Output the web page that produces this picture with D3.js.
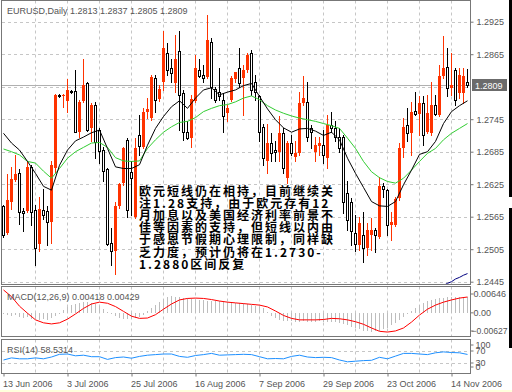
<!DOCTYPE html>
<html>
<head>
<meta charset="utf-8">
<title>EURUSD Daily</title>
<script src="https://cdn.jsdelivr.net/npm/d3@7"></script>
<style>
  body { margin: 0; background: #fff; }
  svg text { font-family: "Liberation Sans", "DejaVu Sans", sans-serif; font-size: 9px; fill: #555; }
  .note { font-family: "Noto Sans CJK SC", sans-serif; font-size: 12px; font-weight: bold; fill: #000; letter-spacing: 2px; }
</style>
</head>
<body>
<svg width="512" height="392"></svg>
<script>
// daily bars, 13 Jun 2006 .. 16 Nov 2006
var opens = [1.2584,1.2534,1.2593,1.2632,1.2645,1.2576,1.2576,1.2657,1.2577,1.2514,1.2577,1.2576,1.2555,1.2654,1.2790,1.2787,1.2779,1.2797,1.2797,1.2721,
  1.2779,1.2811,1.2728,1.2771,1.2725,1.2688,1.2653,1.2516,1.2502,1.2584,1.2627,1.2707,1.2648,1.2565,1.2716,1.2694,1.2759,1.2747,1.2821,1.2782,
  1.2814,1.2867,1.2839,1.2811,1.2870,1.2793,1.2722,1.2711,1.2779,1.2836,1.2827,1.2822,1.2888,1.2801,1.2796,1.2781,1.2756,1.2781,1.2819,1.2839,
  1.2821,1.2836,1.2867,1.2814,1.2787,1.2731,1.2667,1.2701,1.2688,1.2685,1.2719,1.2636,1.2701,1.2676,1.2682,1.2774,1.2777,1.2728,1.2685,1.2696,
  1.2697,1.2673,1.2734,1.2728,1.2713,1.2713,1.2608,1.2593,1.2534,1.2513,1.2531,1.2507,1.2531,1.2541,1.2528,1.2622,1.2614,1.2550,1.2550,1.2599,
  1.2691,1.2734,1.2719,1.2760,1.2754,1.2774,1.2722,1.2719,1.2772,1.2753,1.2824,1.2841,1.2802,1.2836,1.2793,1.2793,1.2813];
var highs = [1.2587,1.2643,1.2656,1.2679,1.2653,1.2581,1.2668,1.2661,1.2587,1.2602,1.2617,1.2584,1.2667,1.2791,1.2791,1.2791,1.2819,1.2799,1.2836,1.2781,
  1.2857,1.2814,1.2774,1.2776,1.2728,1.2694,1.2654,1.2544,1.2593,1.2627,1.2694,1.2710,1.2667,1.2710,1.2753,1.2765,1.2784,1.2827,1.2827,1.2808,
  1.2907,1.2885,1.2857,1.2901,1.2907,1.2799,1.2741,1.2790,1.2864,1.2857,1.2845,1.2937,1.2894,1.2805,1.2839,1.2793,1.2771,1.2824,1.2833,1.2876,
  1.2845,1.2867,1.2873,1.2827,1.2790,1.2737,1.2737,1.2719,1.2704,1.2750,1.2728,1.2704,1.2716,1.2704,1.2796,1.2824,1.2814,1.2734,1.2713,1.2713,
  1.2725,1.2753,1.2759,1.2741,1.2728,1.2716,1.2630,1.2599,1.2568,1.2565,1.2574,1.2553,1.2562,1.2544,1.2639,1.2627,1.2617,1.2574,1.2602,1.2701,
  1.2747,1.2765,1.2777,1.2796,1.2787,1.2787,1.2790,1.2814,1.2790,1.2845,1.2899,1.2876,1.2867,1.2839,1.2839,1.2839,1.2837];
var lows = [1.2528,1.2533,1.2579,1.2630,1.2551,1.2538,1.2574,1.2550,1.2475,1.2501,1.2561,1.2513,1.2516,1.2648,1.2786,1.2768,1.2759,1.2793,1.2721,1.2713,
  1.2777,1.2723,1.2704,1.2673,1.2664,1.2630,1.2513,1.2475,1.2459,1.2581,1.2624,1.2565,1.2568,1.2562,1.2679,1.2691,1.2747,1.2744,1.2759,1.2779,
  1.2799,1.2827,1.2814,1.2796,1.2725,1.2707,1.2709,1.2694,1.2777,1.2822,1.2814,1.2821,1.2784,1.2777,1.2781,1.2722,1.2741,1.2779,1.2814,1.2805,
  1.2753,1.2833,1.2790,1.2781,1.2704,1.2661,1.2645,1.2667,1.2667,1.2667,1.2645,1.2627,1.2679,1.2667,1.2679,1.2771,1.2704,1.2691,1.2667,1.2679,
  1.2664,1.2654,1.2722,1.2704,1.2685,1.2571,1.2541,1.2513,1.2501,1.2504,1.2482,1.2494,1.2504,1.2499,1.2525,1.2602,1.2531,1.2522,1.2547,1.2596,
  1.2676,1.2704,1.2679,1.2753,1.2716,1.2697,1.2719,1.2716,1.2753,1.2750,1.2821,1.2787,1.2790,1.2771,1.2784,1.2774,1.2805];
var closes = [1.2531,1.2596,1.2635,1.2643,1.2574,1.2571,1.2657,1.2574,1.2508,1.2579,1.2568,1.2555,1.2661,1.2790,1.2788,1.2790,1.2799,1.2795,1.2722,1.2776,
  1.2808,1.2725,1.2771,1.2702,1.2686,1.2649,1.2515,1.2502,1.2584,1.2625,1.2692,1.2577,1.2636,1.2691,1.2696,1.2759,1.2764,1.2822,1.2781,1.2801,
  1.2876,1.2836,1.2830,1.2857,1.2790,1.2722,1.2711,1.2782,1.2839,1.2824,1.2821,1.2891,1.2805,1.2781,1.2787,1.2750,1.2765,1.2821,1.2832,1.2811,
  1.2836,1.2864,1.2799,1.2796,1.2722,1.2673,1.2701,1.2682,1.2685,1.2719,1.2654,1.2701,1.2682,1.2682,1.2774,1.2784,1.2713,1.2722,1.2697,1.2701,
  1.2679,1.2734,1.2728,1.2713,1.2691,1.2593,1.2559,1.2538,1.2514,1.2553,1.2507,1.2541,1.2541,1.2531,1.2621,1.2617,1.2550,1.2556,1.2598,1.2691,
  1.2731,1.2719,1.2759,1.2754,1.2774,1.2715,1.2756,1.2772,1.2754,1.2825,1.2839,1.2802,1.2808,1.2781,1.2827,1.2824,1.2809];

// moving averages read every second bar
var fastMA = [1.2719,1.2701,1.2688,1.2667,1.2645,1.2621,1.2614,1.2660,1.2688,1.2705,1.2712,1.2720,1.2725,1.2691,1.2657,1.2654,1.2654,1.2661,1.2697,1.2728,
  1.2750,1.2768,1.2779,1.2765,1.2784,1.2799,1.2803,1.2790,1.2795,1.2799,1.2807,1.2811,1.2787,1.2764,1.2744,1.2729,1.2721,1.2727,1.2728,1.2723,
  1.2715,1.2721,1.2707,1.2673,1.2645,1.2619,1.2593,1.2585,1.2584,1.2593,1.2624,1.2651,1.2680,1.2685,1.2704,1.2737,1.2759,1.2770,1.2779];
var slowMA = [1.2690,1.2685,1.2679,1.2667,1.2664,1.2649,1.2636,1.2654,1.2673,1.2685,1.2693,1.2701,1.2702,1.2693,1.2674,1.2668,1.2667,1.2668,1.2691,1.2707,
  1.2721,1.2731,1.2739,1.2741,1.2748,1.2759,1.2765,1.2770,1.2772,1.2777,1.2784,1.2788,1.2781,1.2770,1.2762,1.2756,1.2751,1.2747,1.2744,1.2741,
  1.2737,1.2733,1.2728,1.2710,1.2691,1.2667,1.2648,1.2637,1.2630,1.2627,1.2636,1.2651,1.2667,1.2682,1.2691,1.2707,1.2719,1.2728,1.2737];
var longMAStart = 110;
var longMA = [1.2438,1.2442,1.2445,1.2450,1.2453,1.2457,1.2460];

var macdMain = [-0.0004,-0.0006,-0.0008,-0.0005,-0.0010,-0.0013,-0.0012,-0.0016,-0.0018,-0.0019,-0.0017,-0.0019,-0.0014,-0.0009,-0.0003,
  0.0008,0.0015,0.0021,0.0025,0.0028,0.0029,0.0029,0.0027,0.0024,0.0018,0.0011,
  0.0003,-0.0004,-0.0009,-0.0013,-0.0016,-0.0017,-0.0016,-0.0013,-0.0010,-0.0005,
  0.0004,0.0013,0.0022,0.0030,0.0038,0.0044,0.0045,0.0044,0.0042,0.0041,0.0039,0.0038,
  0.0036,0.0035,0.0034,0.0033,0.0032,0.0031,0.0031,0.0030,0.0029,0.0029,0.0028,0.0027,0.0026,0.0024,0.0022,
  0.0019,0.0017,0.0012,0.0002,-0.0008,-0.0015,-0.0019,-0.0021,-0.0022,-0.0023,
  -0.0024,-0.0024,-0.0023,-0.0024,-0.0025,-0.0024,-0.0023,-0.0024,-0.0025,-0.0024,-0.0025,
  -0.0027,-0.0030,-0.0034,-0.0038,-0.0042,-0.0045,-0.0048,-0.0050,-0.0051,-0.0050,-0.0048,-0.0045,-0.0040,
  -0.0034,-0.0027,-0.0020,-0.0012,-0.0004,0.0006,0.0014,
  0.0021,0.0026,0.0031,0.0035,0.0038,0.0040,0.0041,0.0042,0.0043,0.0044,0.0044,0.0043,0.0042];
var macdSignal = [0.0062,0.0044,0.0018,-0.0001,-0.0019,-0.0027,-0.0030,-0.0027,-0.0017,-0.0003,0.0012,0.0024,0.0029,0.0026,0.0017,0.0004,-0.0009,-0.0015,-0.0014,-0.0005,
  0.0010,0.0024,0.0035,0.0039,0.0040,0.0039,0.0036,0.0032,0.0029,0.0027,0.0025,0.0023,0.0021,0.0016,0.0005,-0.0007,-0.0015,-0.0019,-0.0019,-0.0019,
  -0.0018,-0.0015,-0.0016,-0.0019,-0.0024,-0.0031,-0.0041,-0.0050,-0.0052,-0.0049,-0.0041,-0.0025,-0.0006,0.0010,0.0021,0.0029,0.0035,0.0040,0.00429];
var rsi = [40,47,44,44,47,44,50,59,60,54,56,51,51,42,48,50,46,52,56,58,60,60,52,49,55,58,62,56,57,58,
  59,58,51,44,45,44,52,56,50,48,49,48,40,34,36,38,39,49,44,53,62,62,60,58,64,67,65,64,58.5];

var priceTicks = [1.2925, 1.2865, 1.2745, 1.2685, 1.2625, 1.2565, 1.2505, 1.2445];
var priceGrid = [1.2925, 1.2865, 1.2805, 1.2745, 1.2685, 1.2625, 1.2565, 1.2505, 1.2445];
var lastPrice = 1.2809;
var macdTicks = [0.00646, 0, -0.00627];
var rsiTicks = [100, 70, 30, 0];
var rsiLevels = [70, 30];
var dateBars = [0, 16, 32, 48, 64, 80, 96, 112];
var dateLabels = ["13 Jun 2006", "3 Jul 2006", "25 Jul 2006", "16 Aug 2006", "7 Sep 2006", "29 Sep 2006", "23 Oct 2006", "14 Nov 2006"];
var noteLines = ["欧元短线仍在相持，目前继续关", "注1.28支持，由于欧元存有12", "月加息以及美国经济利率前景不",
  "佳等因素的支持，但短线以内由", "于感恩节假期心理限制，同样缺", "乏力度，预计仍将在1.2730-", "1.2880区间反复"];

var svg = d3.select("svg");
var n = closes.length;
var left = 2, right = 470;

var x = d3.scaleLinear().domain([0, n - 1]).range([3, 467]);
var y = d3.scaleLinear().domain([1.2445, 1.2925]).range([281.7, 21.7]);
var yM = d3.scaleLinear().domain([-0.00627, 0.00646]).range([336, 289]);
var yR = d3.scaleLinear().domain([0, 100]).range([372, 342]);
function px(i) { return Math.round(x(i)); }

var panels = [[0.5, 284.5], [286.5, 336.5], [339.5, 373.5]];

svg.append("rect").attr("width", 512).attr("height", 392).attr("fill", "#fff");

// vertical dashed grid in every panel
var gridBars = d3.range(8, n, 8);
panels.forEach(function(p) {
  svg.append("g").selectAll("line").data(gridBars).join("line")
    .attr("x1", function(d) { return px(d) + 0.5; }).attr("x2", function(d) { return px(d) + 0.5; })
    .attr("y1", p[0]).attr("y2", p[1])
    .attr("stroke", "#c6c6c6").attr("stroke-dasharray", "3,3");
});

svg.append("g").selectAll("line").data(priceGrid).join("line")
  .attr("x1", left).attr("x2", right)
  .attr("y1", function(d) { return Math.round(y(d)) + 0.5; }).attr("y2", function(d) { return Math.round(y(d)) + 0.5; })
  .attr("stroke", "#c6c6c6").attr("stroke-dasharray", "3,3");

svg.append("line").attr("x1", left).attr("x2", right)
  .attr("y1", Math.round(y(lastPrice)) + 0.5).attr("y2", Math.round(y(lastPrice)) + 0.5)
  .attr("stroke", "#b0b0b0");

svg.append("g").selectAll("line").data(rsiLevels).join("line")
  .attr("x1", left).attr("x2", right)
  .attr("y1", function(d) { return Math.round(yR(d)) + 0.5; }).attr("y2", function(d) { return Math.round(yR(d)) + 0.5; })
  .attr("stroke", "#c6c6c6").attr("stroke-dasharray", "3,3");

// main panel clip
svg.append("clipPath").attr("id", "mainClip").append("rect")
  .attr("x", left).attr("y", 1).attr("width", right - left).attr("height", 283);
var main = svg.append("g").attr("clip-path", "url(#mainClip)");

// candles
var bars = d3.range(n);
var candle = main.append("g").attr("shape-rendering", "crispEdges")
  .selectAll("g").data(bars).join("g");
candle.append("line")
  .attr("x1", function(i) { return px(i) + 0.5; }).attr("x2", function(i) { return px(i) + 0.5; })
  .attr("y1", function(i) { return Math.round(y(highs[i])); })
  .attr("y2", function(i) { return Math.round(y(lows[i])) + 1; })
  .attr("stroke", function(i) { return closes[i] > opens[i] ? "#ff3300" : "#000"; });
candle.append("rect")
  .attr("x", function(i) { return closes[i] > opens[i] ? px(i) - 1 : px(i) - 0.5; })
  .attr("y", function(i) {
    var t = Math.round(y(Math.max(opens[i], closes[i])));
    return closes[i] > opens[i] ? t : t + 0.5;
  })
  .attr("width", function(i) { return closes[i] > opens[i] ? 3 : 2; })
  .attr("height", function(i) {
    var h = Math.round(y(Math.min(opens[i], closes[i]))) - Math.round(y(Math.max(opens[i], closes[i])));
    return closes[i] > opens[i] ? Math.max(1, h) : Math.max(0, h);
  })
  .attr("fill", function(i) { return closes[i] > opens[i] ? "#ff3300" : "#fff"; })
  .attr("stroke", function(i) { return closes[i] > opens[i] ? "none" : "#000"; });

var maBars = d3.range(0, n, 2);
var maLine = d3.line().x(function(d) { return x(d[0]) + 0.5; }).y(function(d) { return y(d[1]); });
main.append("path").attr("d", maLine(d3.zip(maBars, slowMA)))
  .attr("fill", "none").attr("stroke", "#32cd32");
main.append("path").attr("d", maLine(d3.zip(maBars, fastMA)))
  .attr("fill", "none").attr("stroke", "#000");
main.append("path").attr("d", maLine(longMA.map(function(v, j) { return [longMAStart + j, v]; })))
  .attr("fill", "none").attr("stroke", "#000080");

// MACD: histogram and signal
svg.append("g").attr("shape-rendering", "crispEdges")
  .selectAll("line").data(bars).join("line")
  .attr("x1", function(i) { return px(i) + 0.5; }).attr("x2", function(i) { return px(i) + 0.5; })
  .attr("y1", Math.round(yM(0)))
  .attr("y2", function(i) { return Math.round(yM(macdMain[i])); })
  .attr("stroke", "#bdbdbd");
svg.append("path")
  .attr("d", d3.line().x(function(d) { return x(d[0]) + 0.5; }).y(function(d) { return yM(d[1]); })(d3.zip(maBars, macdSignal)))
  .attr("fill", "none").attr("stroke", "#ff0000");

// RSI
svg.append("path")
  .attr("d", d3.line().x(function(d) { return x(d[0]) + 0.5; }).y(function(d) { return yR(d[1]); })(d3.zip(maBars, rsi)))
  .attr("fill", "none").attr("stroke", "#1e90ff");

// frames
svg.append("g").selectAll("rect").data(panels).join("rect")
  .attr("x", 1.5).attr("y", function(p) { return p[0]; })
  .attr("width", right - 1).attr("height", function(p) { return p[1] - p[0]; })
  .attr("fill", "none").attr("stroke", "#777");

// window edges of the screenshot
svg.append("rect").attr("x", 509).attr("y", 0).attr("width", 3).attr("height", 197).attr("fill", "#000");
svg.append("rect").attr("x", 509).attr("y", 208).attr("width", 3).attr("height", 140).attr("fill", "#000");
svg.append("rect").attr("x", 0).attr("y", 390).attr("width", 512).attr("height", 2).attr("fill", "#ffffdc");

// axes
function styleAxis(g) {
  g.select(".domain").remove();
  g.selectAll(".tick line").attr("stroke", "#777");
  g.selectAll(".tick text").attr("fill", "#555").style("font-size", "9px")
    .style("font-family", "'Liberation Sans', sans-serif");
}
svg.append("g").attr("transform", "translate(" + (right + 0.5) + ",0)")
  .call(d3.axisRight(y).tickValues(priceTicks).tickSize(3).tickPadding(3).tickFormat(d3.format(".4f")))
  .call(styleAxis);

var macdAxis = svg.append("g").attr("transform", "translate(" + (right + 0.5) + ",0)")
  .call(d3.axisRight(yM).tickValues(macdTicks).tickSize(3).tickPadding(0)
    .tickFormat(function(d) { return d === 0 ? "0.00" : d3.format(".5f")(d); }))
  .call(styleAxis);
macdAxis.selectAll(".tick").attr("transform", function(d) {
  return "translate(0," + (yM(d) + (d > 0 ? 5 : d < 0 ? -5 : 0)) + ")";
});
macdAxis.selectAll(".tick text").filter(function(d) { return d < 0; })
  .attr("x", 1).attr("textLength", 36).attr("lengthAdjust", "spacingAndGlyphs");

var rsiAxis = svg.append("g").attr("transform", "translate(" + (right + 0.5) + ",0)")
  .call(d3.axisRight(yR).tickValues(rsiTicks).tickSize(3).tickPadding(2))
  .call(styleAxis);
rsiAxis.selectAll(".tick").attr("transform", function(d) {
  return "translate(0," + (yR(d) + (d === 100 ? 3 : d === 0 ? -5 : 0)) + ")";
});

var dateAxis = svg.append("g").attr("transform", "translate(0.5,373.5)")
  .call(d3.axisBottom(x).tickValues(dateBars).tickSize(3).tickPadding(4)
    .tickFormat(function(d, i) { return dateLabels[i]; }))
  .call(styleAxis);
dateAxis.selectAll(".tick text").attr("text-anchor", "start").attr("x", -1);

// last price marker
svg.append("rect").attr("x", 472).attr("y", Math.round(y(lastPrice)) - 6)
  .attr("width", 35).attr("height", 12).attr("fill", "#6b6b6b");
svg.append("text").attr("x", 475).attr("y", Math.round(y(lastPrice)) + 3.5)
  .style("fill", "#fff").text(d3.format(".4f")(lastPrice));

// panel titles
svg.append("text").attr("x", 7).attr("y", 14)
  .text("EURUSD,Daily  " + [opens[n - 1], highs[n - 1], lows[n - 1], closes[n - 1]].map(d3.format(".4f")).join(" "));
svg.append("text").attr("x", 7).attr("y", 300)
  .text("MACD(12,26,9) " + d3.format(".5f")(0.00418) + " " + d3.format(".5f")(macdSignal[macdSignal.length - 1]));
svg.append("text").attr("x", 7).attr("y", 353)
  .text("RSI(14) " + d3.format(".4f")(58.5314));

// comment text
svg.append("g").selectAll("text").data(noteLines).join("text")
  .attr("class", "note")
  .attr("x", 139).attr("y", function(d, i) { return 195.5 + i * 12.2; })
  .text(function(d) { return d; });
</script>
</body>
</html>
